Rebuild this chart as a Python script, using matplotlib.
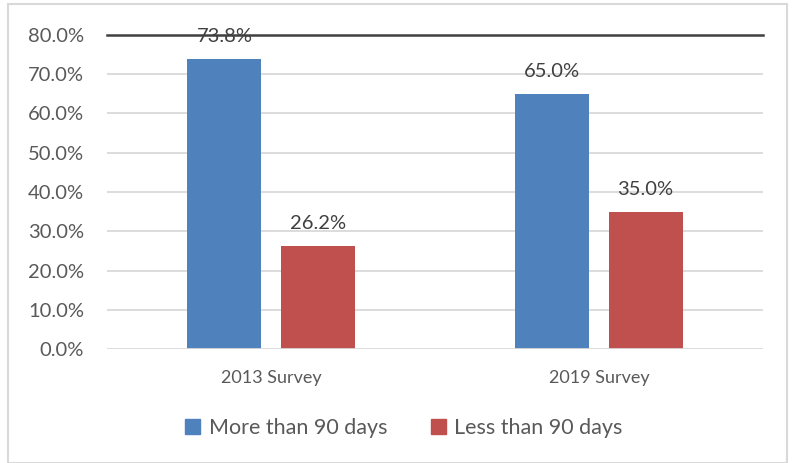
import matplotlib.pyplot as plt
import matplotlib.patches as mpatches
import numpy as np

plt.rcParams['font.family'] = ['Lato', 'DejaVu Sans']

categories = ['2013 Survey', '2019 Survey']
more_90 = [73.8, 65.0]
less_90 = [26.2, 35.0]
series_names = ['More than 90 days', 'Less than 90 days']
yticks = [0, 10, 20, 30, 40, 50, 60, 70, 80]

blue = '#4F81BD'
red = '#C0504D'
txt = '#595959'

fig = plt.figure(figsize=(7.93, 4.63), dpi=100)
ax = fig.add_axes([107/793, 1 - 349/463, 656/793, 314/463])

x = np.arange(len(categories))
w = 0.226
b1 = ax.bar(x - 0.142, more_90, w, color=blue, zorder=3)
b2 = ax.bar(x + 0.142, less_90, w, color=red, zorder=3)

for bars, vals in ((b1, more_90), (b2, less_90)):
    for bar, v in zip(bars, vals):
        ax.annotate(f'{v:.1f}%', (bar.get_x() + bar.get_width() / 2, v),
                    xytext=(0, 10), textcoords='offset points',
                    ha='center', va='bottom', fontsize=14.5, color='#404040', zorder=5)

ax.set_xlim(-0.5, 1.5)
ax.set_ylim(0, 80)
ax.set_yticks(yticks)
ax.set_yticklabels([f'{t:.1f}%' for t in yticks], fontsize=14.5, color=txt)
ax.set_xticks(x)
ax.set_xticklabels(categories, fontsize=13, color=txt)
ax.tick_params(axis='both', length=0)
ax.tick_params(axis='y', pad=16.5)
ax.tick_params(axis='x', pad=15)

for t in yticks[1:-1]:
    ax.axhline(t, color='#d9d9d9', lw=1.3, zorder=1)
ax.axhline(0, color='#d9d9d9', lw=1.3, zorder=4)
ax.axhline(80, color='#404040', lw=1.8, zorder=4, clip_on=False)

for s in ax.spines.values():
    s.set_visible(False)

handles = [mpatches.Patch(color=blue), mpatches.Patch(color=red)]
fig.legend(handles, series_names, loc='center', bbox_to_anchor=(404/793, 1 - 428/463),
           ncol=2, frameon=False, fontsize=15.5, handlelength=0.7, handleheight=0.7,
           handletextpad=0.4, columnspacing=2.0, labelcolor=txt)

border = mpatches.Rectangle((8/793, 0), 779/793, 1 - 4/463, transform=fig.transFigure,
                            fill=False, edgecolor='#d9d9d9', lw=1.5)
fig.patches.append(border)

fig.savefig('out.png', dpi=100)
